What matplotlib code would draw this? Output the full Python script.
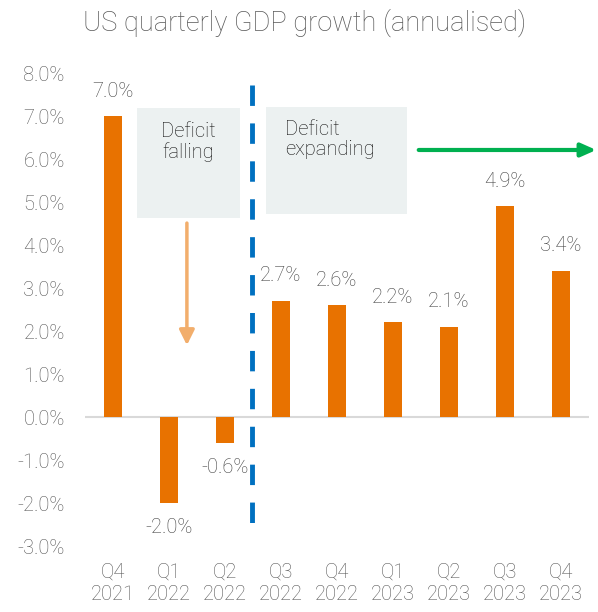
import matplotlib
matplotlib.use("Agg")
import matplotlib.pyplot as plt
from matplotlib.patches import Rectangle

categories = ["Q4\n2021", "Q1\n2022", "Q2\n2022", "Q3\n2022", "Q4\n2022",
              "Q1\n2023", "Q2\n2023", "Q3\n2023", "Q4\n2023"]
gdp_growth = [7.0, -2.0, -0.6, 2.7, 2.6, 2.2, 2.1, 4.9, 3.4]
yticks = [-3, -2, -1, 0, 1, 2, 3, 4, 5, 6, 7, 8]

plt.rcParams['font.family'] = ['Roboto', 'DejaVu Sans']
FW = 'light'
FS = 14.5

fig = plt.figure(figsize=(5.98, 6.12), dpi=100)
ax = fig.add_axes([0.1421, 0.1078, 0.8428, 0.7729])

x = list(range(len(categories)))
ax.bar(x, gdp_growth, width=0.32, color='#E87200', zorder=3)
ax.axhline(0, color='#D9D9D9', lw=1.5, zorder=2)

for xi, v in zip(x, gdp_growth):
    off = 0.58 if v >= 0 else -0.58
    ax.text(xi, v + off, f"{v:.1f}%", ha='center', va='center',
            fontsize=FS, color='#3F3F3F', fontweight=FW, zorder=4)

ax.set_xlim(-0.5, 8.5)
ax.set_ylim(-3, 8)
ax.set_yticks(yticks)
ax.set_yticklabels([f"{t:.1f}%" for t in yticks])
ax.set_xticks(x)
ax.set_xticklabels(categories, linespacing=1.2)
ax.tick_params(axis='y', length=0, pad=14.5, labelsize=FS, labelcolor='#555555')
ax.tick_params(axis='x', length=0, pad=12, labelsize=FS, labelcolor='#555555')
for lab in ax.get_xticklabels() + ax.get_yticklabels():
    lab.set_fontweight(FW)
for s in ax.spines.values():
    s.set_visible(False)

# Annotation boxes
ax.add_patch(Rectangle((0.43, 4.63), 1.84, 2.56, facecolor='#ECF1F1',
                       edgecolor='none', zorder=1))
ax.add_patch(Rectangle((2.73, 4.72), 2.52, 2.49, facecolor='#ECF1F1',
                       edgecolor='none', zorder=1))
ax.text(1.34, 6.4, "Deficit\nfalling", ha='center', va='center', fontsize=FS,
        color='#111111', linespacing=1.1, fontweight=FW, zorder=4)
ax.text(3.08, 6.45, "Deficit\nexpanding", ha='left', va='center', fontsize=FS,
        color='#111111', linespacing=1.1, fontweight=FW, zorder=4)

# Divider
ax.plot([2.48, 2.48], [7.72, -2.75], color='#0070C0', lw=3.5,
        dashes=(4.2, 3.6), zorder=5, clip_on=False)

# Arrows
ax.annotate("", xy=(1.32, 1.67), xytext=(1.32, 4.51),
            arrowprops=dict(arrowstyle='-|>,head_length=0.9,head_width=0.45',
                            color='#F2AE6C', lw=2.5, shrinkA=0, shrinkB=0),
            annotation_clip=False, zorder=4)
ax.annotate("", xy=(8.63, 6.21), xytext=(5.46, 6.21),
            arrowprops=dict(arrowstyle='-|>,head_length=0.9,head_width=0.4',
                            color='#00B050', lw=3, shrinkA=0, shrinkB=0),
            annotation_clip=False, zorder=4)

fig.text(0.51, 0.963, "US quarterly GDP growth (annualised)", ha='center',
         va='center', fontsize=19.6, color='#595959', fontweight=FW)

fig.savefig("out.png", dpi=100)
